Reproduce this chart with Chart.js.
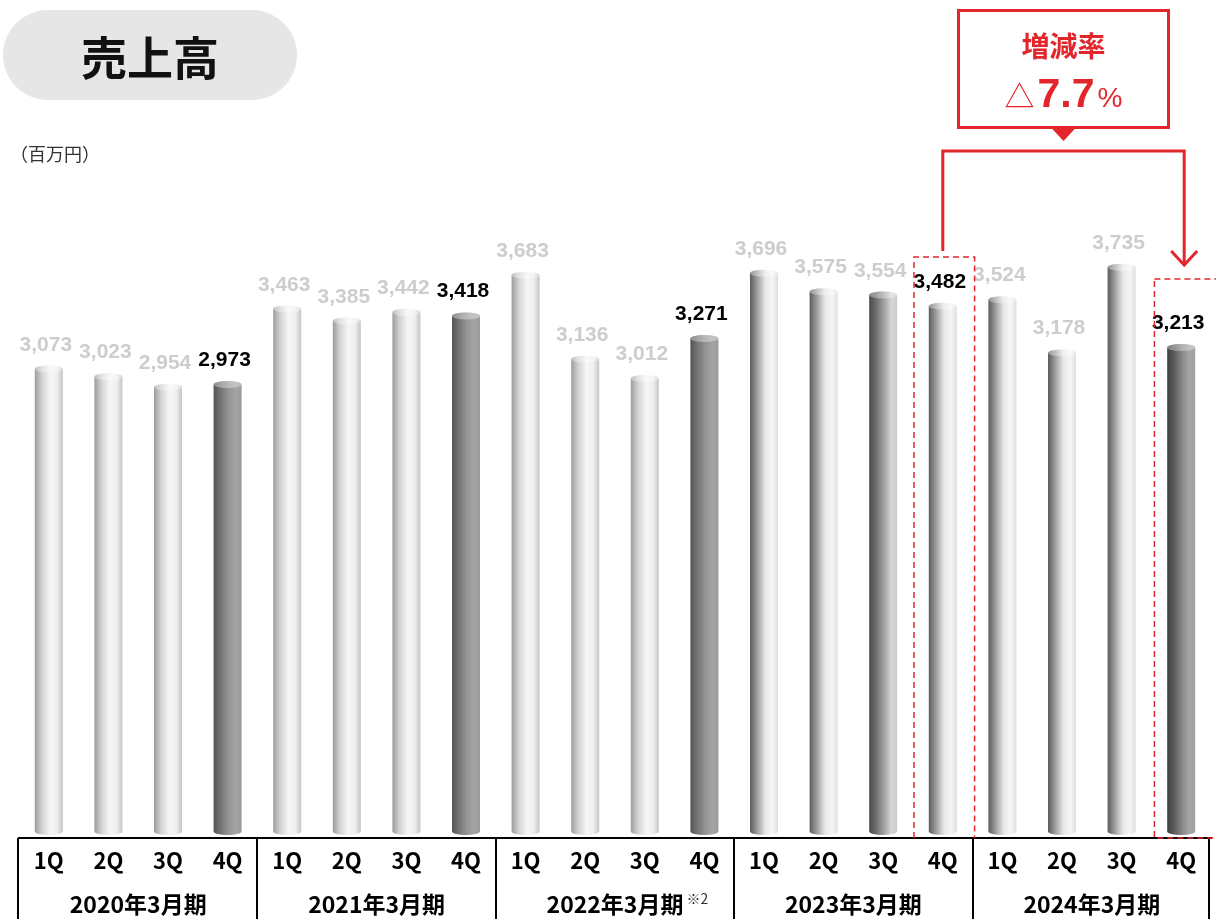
<!DOCTYPE html>
<html lang="ja">
<head>
<meta charset="utf-8">
<title>売上高</title>
<script src="https://cdn.jsdelivr.net/npm/chart.js@4.4.1/dist/chart.umd.min.js"></script>
<style>
	html, body { margin: 0; padding: 0; background: #fff; }
	#wrap { position: relative; width: 1216px; height: 919px; overflow: hidden; }
	#chart { position: absolute; left: 0; top: 0; }
	.title-pill {
		position: absolute; left: 3px; top: 10px; width: 294px; height: 90px;
		border-radius: 45px; background: #e6e6e6;
		font: bold 46px "Noto Sans CJK JP", sans-serif; color: #111;
		display: flex; align-items: center; justify-content: center;
	}
	.unit {
		position: absolute; left: 10px; top: 140px;
		font: 18px "Noto Sans CJK JP", sans-serif; color: #333;
	}
</style>
</head>
<body>
<div id="wrap">
	<canvas id="chart" width="1216" height="919"></canvas>
	<div class="title-pill">売上高</div>
	<div class="unit">（百万円）</div>
</div>
<script>
/* data */
const quarters = ['1Q', '2Q', '3Q', '4Q', '1Q', '2Q', '3Q', '4Q', '1Q', '2Q', '3Q', '4Q', '1Q', '2Q', '3Q', '4Q', '1Q', '2Q', '3Q', '4Q'];
const fiscalYears = ['2020年3月期', '2021年3月期', '2022年3月期', '2023年3月期', '2024年3月期'];
const sales = [3073, 3023, 2954, 2973, 3463, 3385, 3442, 3418, 3683, 3136, 3012, 3271, 3696, 3575, 3554, 3482, 3524, 3178, 3735, 3213];
const changeLabel = '増減率';
const changeRate = '7.7';

/* cylinder shading per bar */
const shades = {
	light: ['#9c9c9c', '#d2d2d2', '#f6f6f6', '#eeeeee', '#c4c4c4'],
	grey: ['#545454', '#747474', '#969696', '#a4a4a4', '#9a9a9a'],
	steel: ['#5c5c5c', '#9c9c9c', '#e8e8e8', '#f6f6f6', '#dedede'],
	deep: ['#4a4a4a', '#6e6e6e', '#a6a6a6', '#d6d6d6', '#cccccc'],
	dark: ['#404040', '#5c5c5c', '#8a8a8a', '#a6a6a6', '#a0a0a0']
};
const barShade = ['light', 'light', 'light', 'grey', 'light', 'light', 'light', 'grey', 'light', 'light', 'light', 'grey',
	'steel', 'steel', 'deep', 'steel', 'steel', 'steel', 'steel', 'dark'];

const red = '#e3262b';

function drawCylinder(ctx, x, top, base, w, stops) {
	const l = x - w / 2, r = x + w / 2, ry = 3.5;
	const g = ctx.createLinearGradient(l, 0, r, 0);
	const pos = [0, 0.25, 0.55, 0.8, 1];
	stops.forEach((c, i) => g.addColorStop(pos[i], c));
	ctx.fillStyle = g;
	ctx.beginPath();
	ctx.moveTo(l, top + ry);
	ctx.lineTo(l, base - ry);
	ctx.ellipse(x, base - ry, w / 2, ry, 0, Math.PI, 0, true);
	ctx.lineTo(r, top + ry);
	ctx.ellipse(x, top + ry, w / 2, ry, 0, 0, Math.PI, true);
	ctx.closePath();
	ctx.fill();
	// top cap
	ctx.save();
	ctx.globalAlpha = 0.35;
	ctx.fillStyle = '#ffffff';
	ctx.beginPath();
	ctx.ellipse(x, top + ry, w / 2, ry, 0, 0, Math.PI * 2);
	ctx.fill();
	ctx.restore();
}

const cylinderPlugin = {
	id: 'cylinders',
	afterDatasetsDraw(chart) {
		const ctx = chart.ctx;
		const meta = chart.getDatasetMeta(0);
		ctx.save();
		meta.data.forEach((bar, i) => {
			drawCylinder(ctx, bar.x, bar.y, bar.base - 3, bar.width, shades[barShade[i]]);
			// value label
			ctx.font = 'bold 21px "Liberation Sans", Arial, sans-serif';
			ctx.textAlign = 'center';
			ctx.textBaseline = 'alphabetic';
			ctx.fillStyle = (i % 4 === 3) ? '#000000' : '#cdcdcd';
			ctx.fillText(sales[i].toLocaleString('en-US'), bar.x - 3, bar.y - 15);
		});
		ctx.restore();
	}
};

const tablePlugin = {
	id: 'table',
	afterDraw(chart) {
		const ctx = chart.ctx;
		const area = chart.chartArea;
		const x2 = chart.scales.x2;
		const edges = [area.left - 1];
		for (let i = 1; i < fiscalYears.length; i++) {
			edges.push((x2.getPixelForTick(i - 1) + x2.getPixelForTick(i)) / 2);
		}
		edges.push(area.right - 2);
		ctx.save();
		ctx.strokeStyle = '#000';
		ctx.lineWidth = 2;
		edges.forEach(e => {
			ctx.beginPath();
			ctx.moveTo(Math.round(e), area.bottom);
			ctx.lineTo(Math.round(e), chart.height);
			ctx.stroke();
		});
		// footnote mark
		ctx.font = 'bold 23px "Noto Sans CJK JP", sans-serif';
		const w = ctx.measureText(fiscalYears[2]).width;
		ctx.font = '14px "Noto Sans CJK JP", sans-serif';
		ctx.fillStyle = '#333';
		ctx.textAlign = 'left';
		ctx.textBaseline = 'alphabetic';
		ctx.fillText('※2', x2.getPixelForTick(2) + w / 2 + 3, 904);
		ctx.restore();
	}
};

const calloutPlugin = {
	id: 'callout',
	afterDraw(chart) {
		const ctx = chart.ctx;
		const x = chart.scales.x;
		const area = chart.chartArea;
		const cat = (area.right - area.left) / quarters.length;
		const xa = x.getPixelForValue(15);
		const xb = x.getPixelForValue(19) + 3;
		const mid = (xa + xb) / 2;
		ctx.save();
		ctx.strokeStyle = red;
		ctx.fillStyle = red;
		// box
		ctx.lineWidth = 3;
		ctx.strokeRect(mid - 105, 10.5, 210, 117);
		ctx.beginPath();
		ctx.moveTo(mid - 13, 127);
		ctx.lineTo(mid + 13, 127);
		ctx.lineTo(mid, 141);
		ctx.closePath();
		ctx.fill();
		// bracket
		ctx.beginPath();
		ctx.moveTo(xa, 251);
		ctx.lineTo(xa, 151);
		ctx.lineTo(xb, 151);
		ctx.lineTo(xb, 265);
		ctx.stroke();
		ctx.beginPath();
		ctx.moveTo(xb - 13, 251);
		ctx.lineTo(xb, 265);
		ctx.lineTo(xb + 13, 251);
		ctx.stroke();
		// dashed frames
		ctx.lineWidth = 1.5;
		ctx.setLineDash([6, 4]);
		const la = xa - cat / 2 + 1, ra = xa + cat / 2 + 2;
		ctx.beginPath();
		ctx.moveTo(la, area.bottom);
		ctx.lineTo(la, 257);
		ctx.lineTo(ra, 257);
		ctx.lineTo(ra, area.bottom);
		ctx.stroke();
		ctx.strokeRect(xb - cat / 2, 279, 120, area.bottom - 279);
		ctx.setLineDash([]);
		// texts
		ctx.textAlign = 'center';
		ctx.textBaseline = 'alphabetic';
		ctx.font = 'bold 28px "Noto Sans CJK JP", sans-serif';
		ctx.fillText(changeLabel, mid, 57);
		const f1 = '30px "Noto Sans CJK JP", sans-serif';
		const f2 = 'bold 41px "Liberation Sans", Arial, sans-serif';
		const f3 = '28px "Liberation Sans", Arial, sans-serif';
		ctx.font = f1; const w1 = ctx.measureText('△').width;
		ctx.font = f2; const w2 = ctx.measureText(changeRate).width;
		ctx.font = f3; const w3 = ctx.measureText('%').width;
		let sx = mid - (w1 + w2 + w3 + 6) / 2;
		ctx.textAlign = 'left';
		ctx.font = f1; ctx.fillText('△', sx, 107);
		sx += w1 + 3;
		ctx.font = f2; ctx.fillText(changeRate, sx, 107);
		sx += w2 + 3;
		ctx.font = f3; ctx.fillText('%', sx, 107);
		ctx.restore();
	}
};

new Chart(document.getElementById('chart'), {
	type: 'bar',
	data: {
		labels: quarters,
		datasets: [{
			label: '売上高',
			data: sales,
			backgroundColor: 'rgba(0,0,0,0)',
			borderWidth: 0,
			categoryPercentage: 1,
			barPercentage: 0.47
		}]
	},
	options: {
		responsive: false,
		animation: false,
		layout: { padding: { left: 19, right: 5, top: 223, bottom: 0 } },
		plugins: {
			legend: { display: false },
			tooltip: { enabled: false }
		},
		scales: {
			y: { display: false, min: 0, max: 4000 },
			x: {
				grid: { display: false, drawTicks: false },
				border: { display: true, color: '#000', width: 2 },
				ticks: {
					autoSkip: false, maxRotation: 0, padding: 9, color: '#000',
					font: { family: '"Noto Sans CJK JP", sans-serif', size: 22, weight: 'bold' }
				},
				afterFit(scale) { scale.height = 40; }
			},
			x2: {
				type: 'category',
				position: 'bottom',
				labels: fiscalYears,
				offset: true,
				grid: { display: false, drawTicks: false },
				border: { display: false },
				ticks: {
					autoSkip: false, maxRotation: 0, padding: 12, color: '#000',
					font: { family: '"Noto Sans CJK JP", sans-serif', size: 23, weight: 'bold' }
				},
				afterFit(scale) { scale.height = 41; }
			}
		}
	},
	plugins: [cylinderPlugin, tablePlugin, calloutPlugin]
});
</script>
</body>
</html>
